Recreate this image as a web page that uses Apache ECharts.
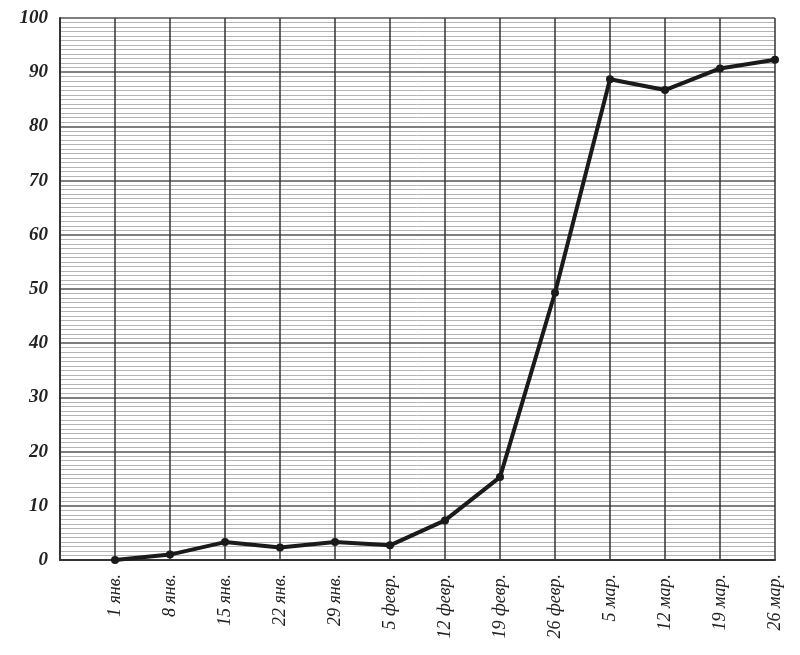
<!DOCTYPE html>
<html>
<head>
<meta charset="utf-8">
<script src="https://cdn.jsdelivr.net/npm/echarts@6/dist/echarts.min.js"></script>
<style>html,body{margin:0;padding:0;background:#fff}#c{width:800px;height:655px}</style>
</head>
<body>
<div id="c"></div>
<script>
var categories = ['', '1 янв.', '8 янв.', '15 янв.', '22 янв.', '29 янв.', '5 февр.', '12 февр.', '19 февр.', '26 февр.', '5 мар.', '12 мар.', '19 мар.', '26 мар.'];
var values = [null, 0, 1, 3.3, 2.3, 3.3, 2.7, 7.3, 15.3, 49.3, 88.7, 86.7, 90.7, 92.3];

var chart = echarts.init(document.getElementById('c'));
var serif = '"Liberation Serif", "DejaVu Serif", serif';
chart.setOption({
  animation: false,
  backgroundColor: '#ffffff',
  grid: { left: 60, right: 25, top: 18, bottom: 95, containLabel: false },
  xAxis: {
    type: 'category',
    data: categories,
    boundaryGap: false,
    axisLine: { show: true, lineStyle: { color: '#333', width: 2 } },
    axisTick: { show: false },
    axisLabel: {
      interval: 0, rotate: 90, margin: 14,
      fontFamily: serif, fontStyle: 'italic', fontSize: 18, color: '#222'
    },
    splitLine: { show: true, interval: 0, lineStyle: { color: '#333', width: 1.5 } }
  },
  yAxis: {
    type: 'value', min: 0, max: 100, interval: 10,
    axisLine: { show: true, lineStyle: { color: '#333', width: 2 } },
    axisTick: { show: false },
    axisLabel: {
      margin: 12, fontFamily: serif, fontStyle: 'italic', fontWeight: 'bold',
      fontSize: 19, color: '#222'
    },
    splitLine: { show: true, lineStyle: { color: '#555', width: 1.5 } },
    minorTick: { show: false, splitNumber: 12 },
    minorSplitLine: { show: true, lineStyle: { color: '#b4b4b4', width: 1 } }
  },
  series: [{
    type: 'line',
    data: values,
    connectNulls: false,
    symbol: 'circle',
    symbolSize: 8,
    lineStyle: { color: '#1a1a1a', width: 4 },
    itemStyle: { color: '#1a1a1a' }
  }]
});
</script>
</body>
</html>
